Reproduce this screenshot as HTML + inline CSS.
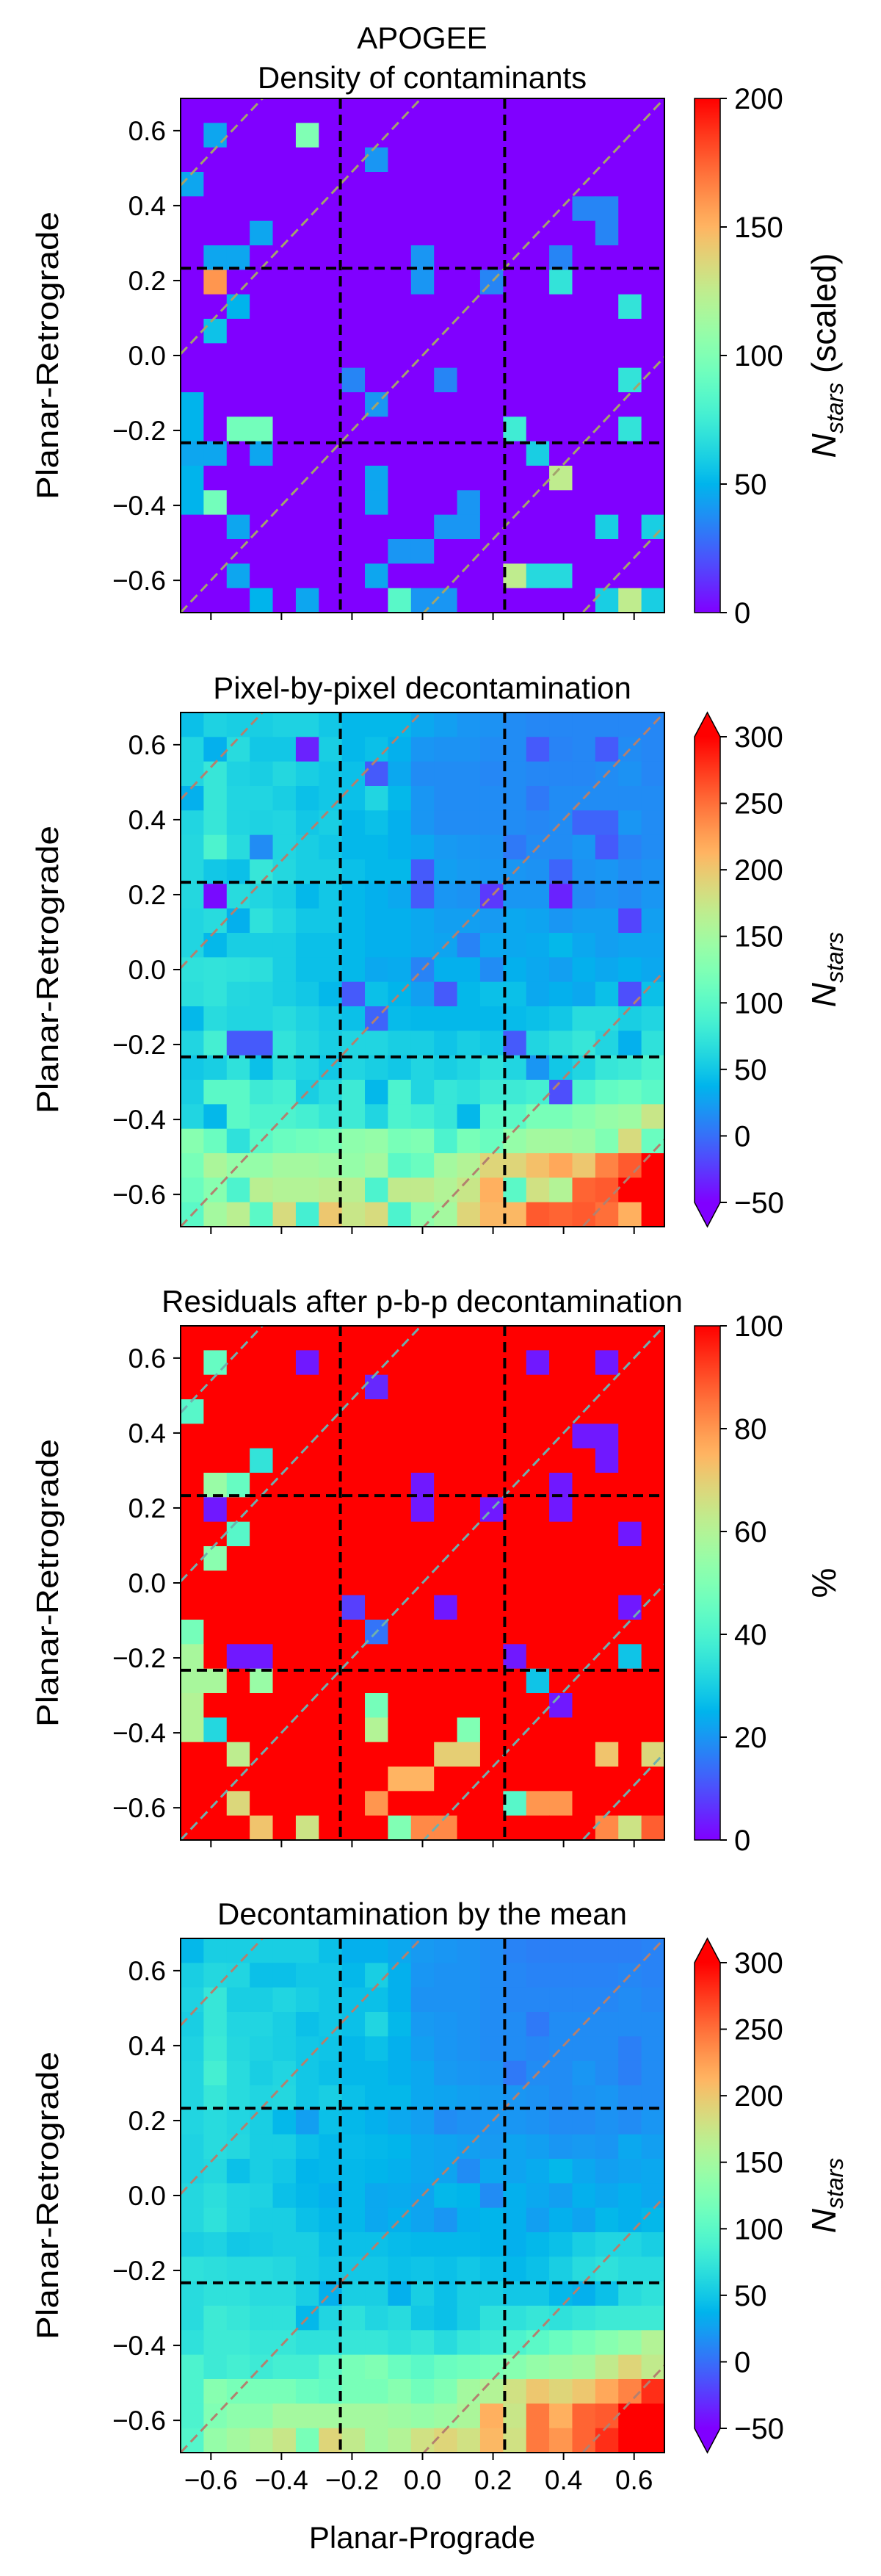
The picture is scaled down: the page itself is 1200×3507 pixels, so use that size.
<!DOCTYPE html>
<html><head><meta charset="utf-8"><style>
html,body{margin:0;padding:0;background:#fff;width:1200px;height:3507px;overflow:hidden;}
svg{display:block;font-family:"Liberation Sans","DejaVu Sans",sans-serif;}
</style></head><body>
<svg id="fig" width="1200" height="3507" viewBox="0 0 1200 3507" xmlns="http://www.w3.org/2000/svg"></svg>
<script>
// ---------- DATA ----------
const yTickValues = [-0.6,-0.4,-0.2,0.0,0.2,0.4,0.6];
const yTickLabels = ["\u22120.6","\u22120.4","\u22120.2","0.0","0.2","0.4","0.6"];
const xTickValues = [-0.6,-0.4,-0.2,0.0,0.2,0.4,0.6];
const xTickLabels = ["\u22120.6","\u22120.4","\u22120.2","0.0","0.2","0.4","0.6"];
const boundaryValues = [-0.233, 0.233];
const diagonalOffsets = [-1.14,-0.69,0,0.69,1.14];
const cb1Ticks = [0,50,100,150,200];
const cb2Ticks = [-50,0,50,100,150,200,250,300];
const cb3Ticks = [0,20,40,60,80,100];

// panel 1: sparse [row, col, value], rest 0
const contaminants = [[1,1,45],[1,5,100],[2,8,40],[3,0,45],[4,17,35],[4,18,35],[5,18,35],[5,3,45],[6,1,45],[6,2,45],[6,10,40],[6,16,35],[7,1,160],[7,10,40],[7,13,35],[7,16,70],[8,2,50],[8,19,70],[9,1,55],[11,7,35],[11,11,35],[11,19,70],[12,0,50],[12,8,40],[13,0,50],[13,2,95],[13,3,95],[13,14,75],[13,19,70],[14,0,45],[14,1,45],[14,3,45],[14,15,60],[15,0,50],[15,8,45],[15,16,125],[16,0,50],[16,1,95],[16,8,45],[16,12,40],[17,2,45],[17,11,40],[17,12,40],[17,18,60],[17,20,60],[18,9,40],[18,10,40],[19,2,45],[19,8,45],[19,14,125],[19,15,65],[19,16,65],[20,3,50],[20,5,45],[20,9,85],[20,10,40],[20,11,40],[20,18,60],[20,19,125],[20,20,60]];

// panel 3: sparse [row, col, percent], rest 100
const residuals = [[1,1,45],[1,5,3],[1,15,3],[1,18,3],[2,8,5],[3,0,42],[4,17,3],[4,18,3],[5,18,3],[5,3,35],[6,1,55],[6,2,45],[6,10,3],[6,16,3],[7,1,3],[7,10,3],[7,13,3],[7,16,3],[8,2,42],[8,19,3],[9,1,52],[11,7,8],[11,11,3],[11,19,3],[12,0,48],[12,8,15],[13,0,58],[13,2,3],[13,3,3],[13,14,3],[13,19,28],[14,0,58],[14,1,58],[14,3,55],[14,15,28],[15,0,60],[15,8,48],[15,16,3],[16,0,60],[16,1,32],[16,8,60],[16,12,50],[17,2,62],[17,11,70],[17,12,70],[17,18,72],[17,20,68],[18,9,75],[18,10,75],[19,2,68],[19,8,80],[19,14,42],[19,15,80],[19,16,80],[20,3,72],[20,5,65],[20,9,50],[20,10,82],[20,11,82],[20,18,82],[20,19,65],[20,20,88]];

// panel 2: pixel-by-pixel decontamination (rows top->bottom)
const pbpRows = [
[45,58,55,55,58,58,50,40,40,40,30,25,20,18,15,12,12,12,12,12,12],
[60,35,65,50,50,-35,55,40,45,35,20,18,18,15,15,-10,10,12,-10,15,12],
[60,75,58,55,62,55,50,45,-10,30,15,15,15,12,15,12,12,12,15,18,12],
[35,75,60,60,55,45,50,45,60,40,20,15,15,15,15,5,15,15,15,15,15],
[60,75,60,58,60,50,55,40,45,35,20,15,15,15,15,12,15,-5,-5,20,15],
[62,90,65,15,60,55,50,40,40,35,30,22,20,18,5,15,15,20,-10,10,15],
[62,50,45,75,62,55,55,45,40,40,-10,25,22,20,20,18,-5,18,20,15,18],
[62,-45,65,60,55,40,50,40,35,30,-10,20,18,-25,20,20,-35,15,18,15,20],
[60,65,35,70,60,50,50,40,35,35,30,25,25,22,30,28,20,25,25,-20,25],
[60,40,55,55,55,45,45,40,35,35,30,28,10,30,30,32,40,30,25,28,28],
[70,72,70,68,55,45,45,40,30,32,10,35,35,15,35,30,25,35,30,35,30],
[68,72,62,60,55,50,40,-10,45,38,25,-10,40,45,45,30,35,30,45,-15,45],
[40,65,60,60,65,58,52,45,-5,42,40,40,40,40,42,45,50,65,65,55,60],
[60,85,-10,-10,72,62,55,60,60,55,55,48,55,50,-10,60,68,75,60,35,70],
[50,55,70,45,68,60,50,60,55,50,60,55,60,70,60,20,50,60,75,80,90],
[55,100,100,80,85,55,65,80,40,90,60,75,70,80,80,85,-15,90,105,110,100],
[60,40,100,90,90,85,75,80,60,90,85,75,40,100,100,120,120,130,140,145,175],
[130,110,70,100,110,115,120,135,140,120,125,90,120,110,140,150,150,145,125,185,110],
[120,155,140,140,150,150,145,140,150,100,110,150,160,190,190,205,220,200,240,260,300],
[110,130,90,165,160,160,165,165,90,170,170,160,175,215,100,180,160,255,260,300,300],
[100,150,165,100,185,85,200,175,185,90,135,150,190,210,210,260,255,260,250,215,300]];

// panel 4: decontamination by the mean
const meanRows = [
[40,55,55,55,55,55,45,35,35,30,22,20,18,15,10,8,8,8,8,8,10],
[55,62,60,45,45,50,50,40,55,35,20,18,18,15,12,10,10,10,10,12,10],
[58,75,55,55,60,55,50,45,45,35,18,18,18,15,12,12,12,12,12,15,12],
[55,75,60,60,55,45,50,45,60,40,22,20,18,15,15,5,15,15,15,15,15],
[58,78,62,58,55,50,48,40,45,35,25,20,18,15,15,12,15,15,15,8,15],
[60,85,65,55,60,50,45,40,40,35,30,22,20,18,5,15,15,20,15,8,15],
[60,75,65,60,62,50,55,45,40,40,30,28,25,22,20,18,15,18,20,15,15],
[60,65,60,55,40,25,45,40,35,30,25,15,18,20,20,18,15,15,18,15,20],
[58,65,62,55,55,45,40,42,40,38,30,28,25,22,28,25,20,22,20,30,25],
[58,62,45,55,50,38,40,40,38,35,30,28,15,30,28,32,40,30,25,28,30],
[62,68,60,58,45,40,35,40,30,32,28,40,38,15,35,30,25,35,30,35,30],
[62,70,60,55,55,45,40,40,30,35,28,20,35,38,35,25,35,28,40,35,40],
[55,58,50,52,55,55,45,45,45,42,40,40,40,38,35,40,45,55,60,60,55],
[70,68,65,65,62,55,50,50,50,45,48,45,50,45,40,45,55,65,70,65,65],
[65,70,70,65,65,55,35,55,55,35,55,45,55,55,50,50,40,35,45,65,70],
[65,80,75,70,70,40,60,70,60,65,50,45,55,70,70,75,70,75,80,80,80],
[70,80,80,75,75,70,70,75,75,70,75,65,75,80,90,100,110,120,130,140,160],
[90,80,85,80,85,85,100,120,125,110,100,110,115,120,130,140,145,150,170,190,170],
[90,130,120,120,120,110,105,120,120,130,115,125,150,160,180,200,190,200,220,240,280],
[90,125,135,135,150,150,150,150,150,145,140,145,155,215,175,245,215,255,260,300,300],
[95,140,150,160,175,120,190,170,150,160,180,190,180,210,180,245,230,255,280,300,300]];

// ---------- HELPERS ----------
const NS="http://www.w3.org/2000/svg";
const svg=document.getElementById('fig');
const N=21, LO=-0.686, HI=0.686, STEP=(HI-LO)/N;
const PX0=246, PW=659, PH=700;
function xs(v){return PX0+(v-LO)/(HI-LO)*PW;}
function ys(v,top){return top+(HI-v)/(HI-LO)*PH;}
function rb(t){t=Math.max(0,Math.min(1,t));
  const c=x=>Math.round(255*Math.max(0,Math.min(1,x)));
  return 'rgb('+c(Math.abs(2*t-0.5))+','+c(Math.sin(Math.PI*t))+','+c(Math.cos(Math.PI*t/2))+')';}
function mk(tag,attrs,parent){const e=document.createElementNS(NS,tag);for(const k in attrs)e.setAttribute(k,attrs[k]);(parent||svg).appendChild(e);return e;}
function txt(s,attrs,parent){const e=mk('text',attrs,parent);e.textContent=s;return e;}
function fromSparse(list,def){const g=[];for(let r=0;r<N;r++){g.push(new Array(N).fill(def));}list.forEach(d=>{g[d[0]][d[1]]=d[2];});return g;}

const panels=[
 {top:134, grid:fromSparse(contaminants,0), vmin:0, vmax:200, ticks:cb1Ticks, extend:false, diag:'#a3a46c', name:'contaminants'},
 {top:970, grid:pbpRows, vmin:-50, vmax:300, ticks:cb2Ticks, extend:true, diag:'#b3806f', name:'pixel-decontamination'},
 {top:1805, grid:fromSparse(residuals,100), vmin:0, vmax:100, ticks:cb3Ticks, extend:false, diag:'#6fb0ae', name:'residuals'},
 {top:2639, grid:meanRows, vmin:-50, vmax:300, ticks:cb2Ticks, extend:true, diag:'#b3806f', name:'mean-decontamination'}
];

const defs=mk('defs',{});
const grad=mk('linearGradient',{id:'rbgrad',x1:'0',y1:'1',x2:'0',y2:'0'},defs);
for(let i=0;i<=40;i++){mk('stop',{offset:(i/40),'stop-color':rb(i/40)},grad);}

panels.forEach((p,pi)=>{
  const g=mk('g',{});
  
  
  const clip=mk('clipPath',{id:'clip'+pi},defs);
  mk('rect',{x:PX0,y:p.top,width:PW,height:PH},clip);
  for(let r=0;r<N;r++)for(let c=0;c<N;c++){
    const v=p.grid[r][c];
    const x0=xs(LO+c*STEP), x1=xs(LO+(c+1)*STEP);
    const y0=ys(HI-r*STEP,p.top), y1=ys(HI-(r+1)*STEP,p.top);
    const cell=mk('rect',{x:x0.toFixed(2),y:y0.toFixed(2),width:(x1-x0+0.6).toFixed(2),height:(y1-y0+0.6).toFixed(2),fill:rb((v-p.vmin)/(p.vmax-p.vmin))},g);
    
    
  }
  const dg=mk('g',{'clip-path':'url(#clip'+pi+')'},g);
  diagonalOffsets.forEach(o=>{
    const l=mk('line',{x1:xs(LO),y1:ys(LO+o,p.top),x2:xs(HI),y2:ys(HI+o,p.top),stroke:p.diag,'stroke-width':3,'stroke-dasharray':'13 7'},dg);
    
    
  });
  boundaryValues.forEach(b=>{
    const lv=mk('line',{x1:xs(b),y1:p.top,x2:xs(b),y2:p.top+PH,stroke:'#000','stroke-width':4,'stroke-dasharray':'14 8'},g);
    
    
    const lh=mk('line',{x1:PX0,y1:ys(b,p.top),x2:PX0+PW,y2:ys(b,p.top),stroke:'#000','stroke-width':4,'stroke-dasharray':'14 8'},g);
    
    
  });
  const fr=mk('rect',{x:PX0,y:p.top,width:PW,height:PH,fill:'none',stroke:'#000','stroke-width':2},g);
  
  
  yTickValues.forEach((v,i)=>{
    const y=ys(v,p.top);
    mk('line',{x1:PX0-10,y1:y,x2:PX0,y2:y,stroke:'#000','stroke-width':2},g);
    const t=txt(yTickLabels[i],{x:226,y:y+13,'font-size':37,'text-anchor':'end',fill:'#000'},g);
    
    
  });
  xTickValues.forEach((v,i)=>{
    const x=xs(v);
    mk('line',{x1:x,y1:p.top+PH,x2:x,y2:p.top+PH+10,stroke:'#000','stroke-width':2},g);
    if(pi===3){
      const t=txt(xTickLabels[i],{x:x,y:p.top+PH+50,'font-size':37,'text-anchor':'middle',fill:'#000'},g);
      
      
    }
  });
  const yt=txt('Planar-Retrograde',{x:0,y:0,'font-size':42,'text-anchor':'middle',transform:'translate(79,'+(p.top+PH/2)+') rotate(-90)',fill:'#000',textLength:392,lengthAdjust:'spacingAndGlyphs'},g);
  
  
  const cbx=946, cbw=35;
  const r0=p.extend?p.top+33:p.top, r1=p.extend?p.top+PH-33:p.top+PH;
  const cb=mk('g',{},g);
  
  
  mk('rect',{x:cbx,y:r0,width:cbw,height:r1-r0,fill:'url(#rbgrad)'},cb);
  if(p.extend){
    mk('polygon',{points:cbx+','+r0+' '+(cbx+cbw/2)+','+p.top+' '+(cbx+cbw)+','+r0,fill:rb(1)},cb);
    mk('polygon',{points:cbx+','+r1+' '+(cbx+cbw/2)+','+(p.top+PH)+' '+(cbx+cbw)+','+r1,fill:rb(0)},cb);
    mk('polygon',{points:cbx+','+r0+' '+(cbx+cbw/2)+','+p.top+' '+(cbx+cbw)+','+r0+' '+(cbx+cbw)+','+r1+' '+(cbx+cbw/2)+','+(p.top+PH)+' '+cbx+','+r1,fill:'none',stroke:'#000','stroke-width':1.5},cb);
  } else {
    mk('rect',{x:cbx,y:r0,width:cbw,height:r1-r0,fill:'none',stroke:'#000','stroke-width':1.5},cb);
  }
  p.ticks.forEach(v=>{
    const y=r1-(v-p.vmin)/(p.vmax-p.vmin)*(r1-r0);
    mk('line',{x1:cbx+cbw,y1:y,x2:cbx+cbw+9,y2:y,stroke:'#000','stroke-width':2},cb);
    const t=txt(String(v).replace('-','\u2212'),{x:1000,y:y+14,'font-size':40,fill:'#000'},cb);
    
    
  });
});

function cbLabel(top,content,name){
  const t=mk('text',{x:0,y:0,'font-size':46,'text-anchor':'middle',transform:'translate(1138,'+(top+PH/2)+') rotate(-90)',fill:'#000'});
  t.innerHTML=content;
  
  
}
cbLabel(134,'<tspan font-style="italic">N</tspan><tspan font-style="italic" font-size="32" dy="10">stars</tspan><tspan dy="-10"> (scaled)</tspan>','colorbar-label-contaminants');
cbLabel(970,'<tspan font-style="italic">N</tspan><tspan font-style="italic" font-size="32" dy="10">stars</tspan>','colorbar-label-pbp');
cbLabel(1805,'%','colorbar-label-percent');
cbLabel(2639,'<tspan font-style="italic">N</tspan><tspan font-style="italic" font-size="32" dy="10">stars</tspan>','colorbar-label-mean');

const titles=[['APOGEE',66],['Density of contaminants',120],['Pixel-by-pixel decontamination',951],['Residuals after p-b-p decontamination',1786],['Decontamination by the mean',2620]];
titles.forEach(tt=>{
  const t=txt(tt[0],{x:575,y:tt[1],'font-size':42,'text-anchor':'middle',fill:'#000'});
  
  
});
const xt=txt('Planar-Prograde',{x:575,y:3469,'font-size':42,'text-anchor':'middle',fill:'#000'});


</script>
</body></html>
